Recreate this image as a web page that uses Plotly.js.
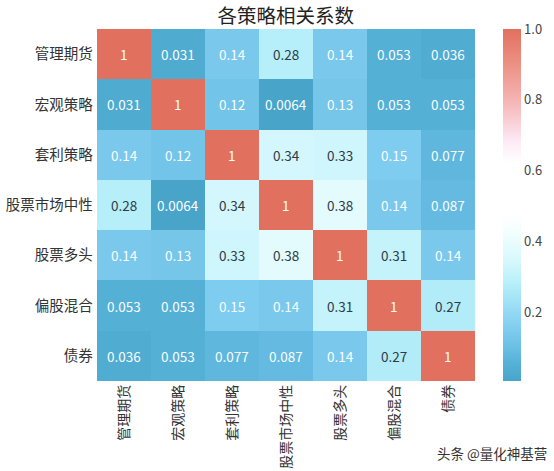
<!DOCTYPE html>
<html><head><meta charset="utf-8">
<script src="https://cdn.plot.ly/plotly-3.0.1.min.js"></script>
<style>html,body{margin:0;padding:0;background:#fff}#chart{width:554px;height:471px}</style>
</head><body><div id="chart"></div>
<script>
const strategies = ['管理期货','宏观策略','套利策略','股票市场中性','股票多头','偏股混合','债券'];
const corrRow0 = [1, 0.031, 0.14, 0.28, 0.14, 0.053, 0.036];
const corrRow1 = [0.031, 1, 0.12, 0.0064, 0.13, 0.053, 0.053];
const corrRow2 = [0.14, 0.12, 1, 0.34, 0.33, 0.15, 0.077];
const corrRow3 = [0.28, 0.0064, 0.34, 1, 0.38, 0.14, 0.087];
const corrRow4 = [0.14, 0.13, 0.33, 0.38, 1, 0.31, 0.14];
const corrRow5 = [0.053, 0.053, 0.15, 0.14, 0.31, 1, 0.27];
const corrRow6 = [0.036, 0.053, 0.077, 0.087, 0.14, 0.27, 1];
const z = [corrRow0, corrRow1, corrRow2, corrRow3, corrRow4, corrRow5, corrRow6];
const colorbarTicks = [0.2, 0.4, 0.6, 0.8, 1.0];
const colorbarTickText = ['0.2','0.4','0.6','0.8','1.0'];
const chartTitle = '各策略相关系数';
const watermark = '头条 @量化神基营';

const font = '"Noto Sans CJK SC", "Noto Sans", sans-serif';
const colorscale = [
  [0, '#48a5c9'], [0.05, '#56b1d7'], [0.1, '#6cc0e5'], [0.15, '#80cdf0'],
  [0.28, '#b8f0fa'], [0.35, '#daf9fd'], [0.42, '#f1fefe'], [0.47, '#ffffff'],
  [0.62, '#ffffff'], [0.68, '#fdeaf6'], [0.8, '#f4b3b2'], [0.9, '#ec9185'], [1, '#e2705e']
];

function fmt(v){ return v === 1 ? '1' : String(Number(v.toPrecision(2))); }

const annotations = [];
z.forEach((row, i) => row.forEach((v, j) => {
  annotations.push({
    x: strategies[j], y: strategies[i], xref: 'x', yref: 'y', text: fmt(v), showarrow: false,
    font: {family: font, size: 13.5, color: (v >= 0.25 && v < 1) ? '#2f3b48' : '#fbfdff'}
  });
}));
annotations.push({
  text: watermark, xref: 'paper', yref: 'paper', x: 1.195, y: -0.205, xanchor: 'right', yanchor: 'middle',
  showarrow: false, font: {family: font, size: 13.5, color: '#333'}
});

const data = [{
  type: 'heatmap', z: z, x: strategies, y: strategies,
  colorscale: colorscale, zmin: 0.0064, zmax: 1, xgap: 0, ygap: 0,
  hoverinfo: 'skip',
  colorbar: {
    thickness: 18, len: 1, lenmode: 'fraction', y: 0.5, yanchor: 'middle',
    x: 1.074, xanchor: 'left', xpad: 0, ypad: 0, outlinewidth: 0,
    tickvals: colorbarTicks, ticktext: colorbarTickText, ticks: '', ticklen: 0,
    tickfont: {family: font, size: 13, color: '#444'}
  }
}];

const layout = {
  width: 554, height: 471,
  margin: {l: 97, r: 79, t: 29, b: 90, pad: 0},
  paper_bgcolor: '#fff', plot_bgcolor: '#fff',
  title: {text: chartTitle, x: 0.516, xanchor: 'center', y: 0.965, yanchor: 'middle',
          font: {family: font, size: 19.5, color: '#222', weight: 400}},
  xaxis: {type: 'category', tickangle: -90, showgrid: false, zeroline: false, ticks: '',
          showline: false, tickfont: {family: font, size: 14, color: '#333'}, automargin: false},
  yaxis: {type: 'category', autorange: 'reversed', showgrid: false, zeroline: false, ticks: '',
          showline: false, ticksuffix: ' ', tickfont: {family: font, size: 14.5, color: '#333'}, automargin: false},
  annotations: annotations
};

Plotly.newPlot('chart', data, layout, {displayModeBar: false, staticPlot: true});
</script></body></html>
